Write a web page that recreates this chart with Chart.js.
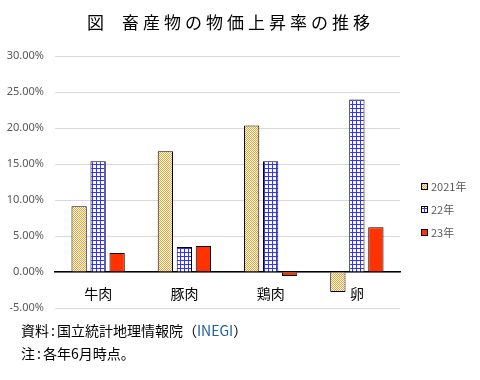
<!DOCTYPE html>
<html><head><meta charset="utf-8">
<script src="https://cdn.jsdelivr.net/npm/chart.js@4/dist/chart.umd.min.js"></script>
<style>
html,body{margin:0;padding:0;background:#fff;}
#wrap{position:relative;width:480px;height:380px;overflow:hidden;background:#fff;}
canvas{position:absolute;left:0;top:0;}
.t{position:absolute;font-family:"Noto Sans CJK JP";color:#000;white-space:nowrap;line-height:1;}
</style></head><body>
<div id="wrap">
<canvas id="c" width="480" height="380"></canvas>
<div class="t" style="left:87px;top:13px;font-size:17px;">図<span style="margin-left:18px;letter-spacing:4px">畜産物の物価上昇率の推移</span></div>
<div class="t" style="left:21px;top:323px;font-size:14px">資料<span style="margin:0 2px">:</span>国立統計地理情報院（<span style="color:#1f5fa6">INEGI</span>）</div>
<div class="t" style="left:21px;top:346px;font-size:14px">注<span style="margin:0 2px">:</span>各年6月時点。</div>
</div>
<script>
const categories = ['牛肉', '豚肉', '鶏肉', '卵'];
const seriesNames = ['2021年', '22年', '23年'];
const values2021 = [9.14, 16.76, 20.36, -2.77];
const values2022 = [15.37, 3.46, 15.37, 23.96];
const values2023 = [2.63, 3.60, -0.55, 6.23];
const yMin = -5, yMax = 30, yStep = 5;

function checkerPattern() {
  const c = document.createElement('canvas'); c.width = 2; c.height = 2;
  const x = c.getContext('2d');
  x.fillStyle = '#ffffff'; x.fillRect(0, 0, 2, 2);
  x.fillStyle = '#f5a028'; x.fillRect(0, 0, 1, 1); x.fillRect(1, 1, 1, 1);
  return x.createPattern(c, 'repeat');
}
function gridPattern() {
  const c = document.createElement('canvas'); c.width = 4; c.height = 4;
  const x = c.getContext('2d');
  x.fillStyle = '#ffffff'; x.fillRect(0, 0, 4, 4);
  x.fillStyle = '#3333ff'; x.fillRect(0, 0, 4, 1); x.fillRect(0, 0, 1, 4);
  return x.createPattern(c, 'repeat');
}

const legendPlugin = {
  id: 'sideLegend',
  afterDraw(chart) {
    const ctx = chart.ctx;
    const ys = [186, 209, 232];
    ctx.save();
    chart.data.datasets.forEach((d, i) => {
      const y = ys[i];
      ctx.fillStyle = d.backgroundColor;
      ctx.fillRect(421, y - 3, 7, 7);
      ctx.strokeStyle = '#000'; ctx.lineWidth = 1;
      ctx.strokeRect(421.5, y - 2.5, 6, 6);
      ctx.fillStyle = '#595959';
      ctx.font = '11px "Noto Sans CJK JP"';
      ctx.textBaseline = 'middle'; ctx.textAlign = 'left';
      ctx.fillText(d.label, 431, y + 1);
    });
    ctx.restore();
  }
};

new Chart(document.getElementById('c').getContext('2d'), {
  type: 'bar',
  data: {
    labels: categories,
    datasets: [
      { label: seriesNames[0], data: values2021, backgroundColor: checkerPattern(), borderColor: '#000', borderWidth: 1 },
      { label: seriesNames[1], data: values2022, backgroundColor: gridPattern(), borderColor: '#000', borderWidth: 1 },
      { label: seriesNames[2], data: values2023, backgroundColor: '#ff3300', borderColor: '#000', borderWidth: 1 }
    ]
  },
  options: {
    responsive: false, animation: false, devicePixelRatio: 1,
    layout: { padding: { top: 56, right: 80, bottom: 72, left: 0 } },
    datasets: { bar: { categoryPercentage: 0.661, barPercentage: 0.805 } },
    plugins: { legend: { display: false }, title: { display: false }, tooltip: { enabled: false } },
    scales: {
      x: {
        position: { y: 0 },
        afterFit(s) { s.height = 0; },
        grid: { display: false, drawTicks: false },
        border: { display: true, color: '#000', width: 1.5 },
        ticks: { color: '#000', font: { family: 'Noto Sans CJK JP', size: 14 }, padding: 13 }
      },
      y: {
        min: yMin, max: yMax,
        afterFit(s) { s.width = 55; },
        grid: { color: '#d9d9d9', drawTicks: false },
        border: { display: false },
        ticks: { stepSize: yStep, padding: 11, color: '#595959', font: { family: 'Noto Sans', size: 11 },
                 callback: v => v.toFixed(2) + '%' }
      }
    }
  },
  plugins: [legendPlugin]
});
</script>
</body></html>
